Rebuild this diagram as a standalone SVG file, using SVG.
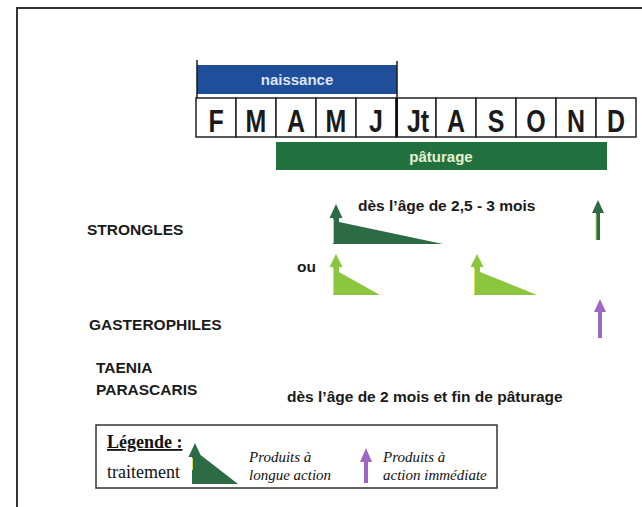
<svg xmlns="http://www.w3.org/2000/svg" width="642" height="507" viewBox="0 0 642 507">
<defs>
<style>
.frame{fill:none;stroke:#333;stroke-width:2}
.box{fill:#fff;stroke:#222;stroke-width:1.5}
.mon{font-family:"Liberation Sans",Arial,sans-serif;font-weight:bold;font-size:32px;fill:#1a1a1a;text-anchor:middle}
.lbl{font-family:"Liberation Sans",Arial,sans-serif;font-weight:bold;font-size:15.5px;fill:#1a1a1a}
.bar{font-family:"Liberation Sans",Arial,sans-serif;font-weight:bold;font-size:15px;text-anchor:middle}
.tim{font-family:"Liberation Serif","Times New Roman",serif;font-size:18px;fill:#111}
.it{font-family:"Liberation Serif","Times New Roman",serif;font-style:italic;font-size:15px;fill:#111}
.dg{fill:#2d6b45}
.lg{fill:#8cc63e}
.pu{fill:#a066c4}
.tick{stroke:#1a1a1a;stroke-width:1.5}
</style>
</defs>
<rect width="642" height="507" fill="#fff"/>
<path class="frame" d="M17,507 V8 H642"/>

<g id="naissance">
<rect x="197" y="65" width="200" height="29" fill="#1f4f9a"/>
<line class="tick" x1="197" y1="60" x2="197" y2="98"/>
<line class="tick" x1="397" y1="61" x2="397" y2="98"/>
<text class="bar" x="297" y="85" fill="#dbe6f5">naissance</text>
</g>

<g id="months">
<rect class="box" x="196" y="98" width="40" height="39"/>
<rect class="box" x="236" y="98" width="40" height="39"/>
<rect class="box" x="276" y="98" width="40" height="39"/>
<rect class="box" x="316" y="98" width="40" height="39"/>
<rect class="box" x="356" y="98" width="40" height="39"/>
<rect class="box" x="396" y="98" width="40" height="39"/>
<rect class="box" x="436" y="98" width="40" height="39"/>
<rect class="box" x="476" y="98" width="40" height="39"/>
<rect class="box" x="516" y="98" width="40" height="39"/>
<rect class="box" x="556" y="98" width="40" height="39"/>
<rect class="box" x="596" y="98" width="40" height="39"/>
<line x1="397" y1="98" x2="397" y2="137" stroke="#111" stroke-width="2"/>
<text class="mon" transform="translate(216,132) scale(0.78,1)">F</text>
<text class="mon" transform="translate(256,132) scale(0.78,1)">M</text>
<text class="mon" transform="translate(296,132) scale(0.78,1)">A</text>
<text class="mon" transform="translate(336,132) scale(0.78,1)">M</text>
<text class="mon" transform="translate(376,132) scale(0.78,1)">J</text>
<text class="mon" transform="translate(418,132) scale(0.78,1)">Jt</text>
<text class="mon" transform="translate(456,132) scale(0.78,1)">A</text>
<text class="mon" transform="translate(496,132) scale(0.78,1)">S</text>
<text class="mon" transform="translate(536,132) scale(0.78,1)">O</text>
<text class="mon" transform="translate(576,132) scale(0.78,1)">N</text>
<text class="mon" transform="translate(616,132) scale(0.78,1)">D</text>
</g>

<g id="paturage">
<rect x="276" y="142" width="331" height="28" fill="#23703f"/>
<text class="bar" x="441" y="162" fill="#e6f2cf">pâturage</text>
</g>

<g id="labels">
<text class="lbl" x="87" y="235">STRONGLES</text>
<text class="lbl" x="297" y="272">ou</text>
<text class="lbl" x="89" y="330">GASTEROPHILES</text>
<text class="lbl" x="96" y="373">TAENIA</text>
<text class="lbl" x="96" y="395">PARASCARIS</text>
<text class="lbl" x="358" y="211">dès l’âge de 2,5 - 3 mois</text>
<text class="lbl" x="287" y="402">dès l’âge de 2 mois et fin de pâturage</text>
</g>

<g id="connectors">
<g id="strongles-long">
<polygon class="dg" points="336,204 329.5,218 333,218 333,244 443,244 339,222 339,218 342.5,218"/>
<line x1="333.5" y1="219" x2="333.5" y2="243" stroke="#c9d860" stroke-width="1"/>
</g>
<g id="strongles-short1">
<polygon class="lg" points="336,254 329.5,267 333,267 333,295 380,295 339,272 339,267 342.5,267"/>
<line x1="333.5" y1="268" x2="333.5" y2="294" stroke="#d8e060" stroke-width="1"/>
</g>
<g id="strongles-short2">
<polygon class="lg" points="477,254 470.5,267 474,267 474,295 537,295 480,272 480,267 483.5,267"/>
<line x1="474.5" y1="268" x2="474.5" y2="294" stroke="#d8e060" stroke-width="1"/>
</g>
<g id="strongles-dec">
<polygon class="dg" points="598,200 592,213 596,213 596,240 600,240 600,213 604,213"/>
<line x1="596" y1="214" x2="596" y2="240" stroke="#c9d860" stroke-width="1"/>
</g>
<g id="gastero-dec">
<polygon class="pu" points="600,299 594,312 598,312 598,338 602,338 602,312 606,312"/>
</g>
</g>

<g id="legend">
<rect x="96" y="425" width="401" height="63" fill="#fff" stroke="#333" stroke-width="1.5"/>
<text class="tim" x="107" y="448" font-weight="bold" text-decoration="underline">Légende :</text>
<text class="tim" x="107" y="478">traitement</text>
<polygon class="dg" points="195,443 188.5,457 192,457 192,484 238,484 198,453 198,457 201.5,457"/>
<line x1="192.5" y1="458" x2="192.5" y2="470" stroke="#d8e060" stroke-width="1"/>
<text class="it" x="249" y="462">Produits à</text>
<text class="it" x="249" y="480">longue action</text>
<polygon class="pu" points="366,448 360,462 364,462 364,483 368,483 368,462 372,462"/>
<text class="it" x="383" y="462">Produits à</text>
<text class="it" x="383" y="480">action immédiate</text>
</g>
</svg>
